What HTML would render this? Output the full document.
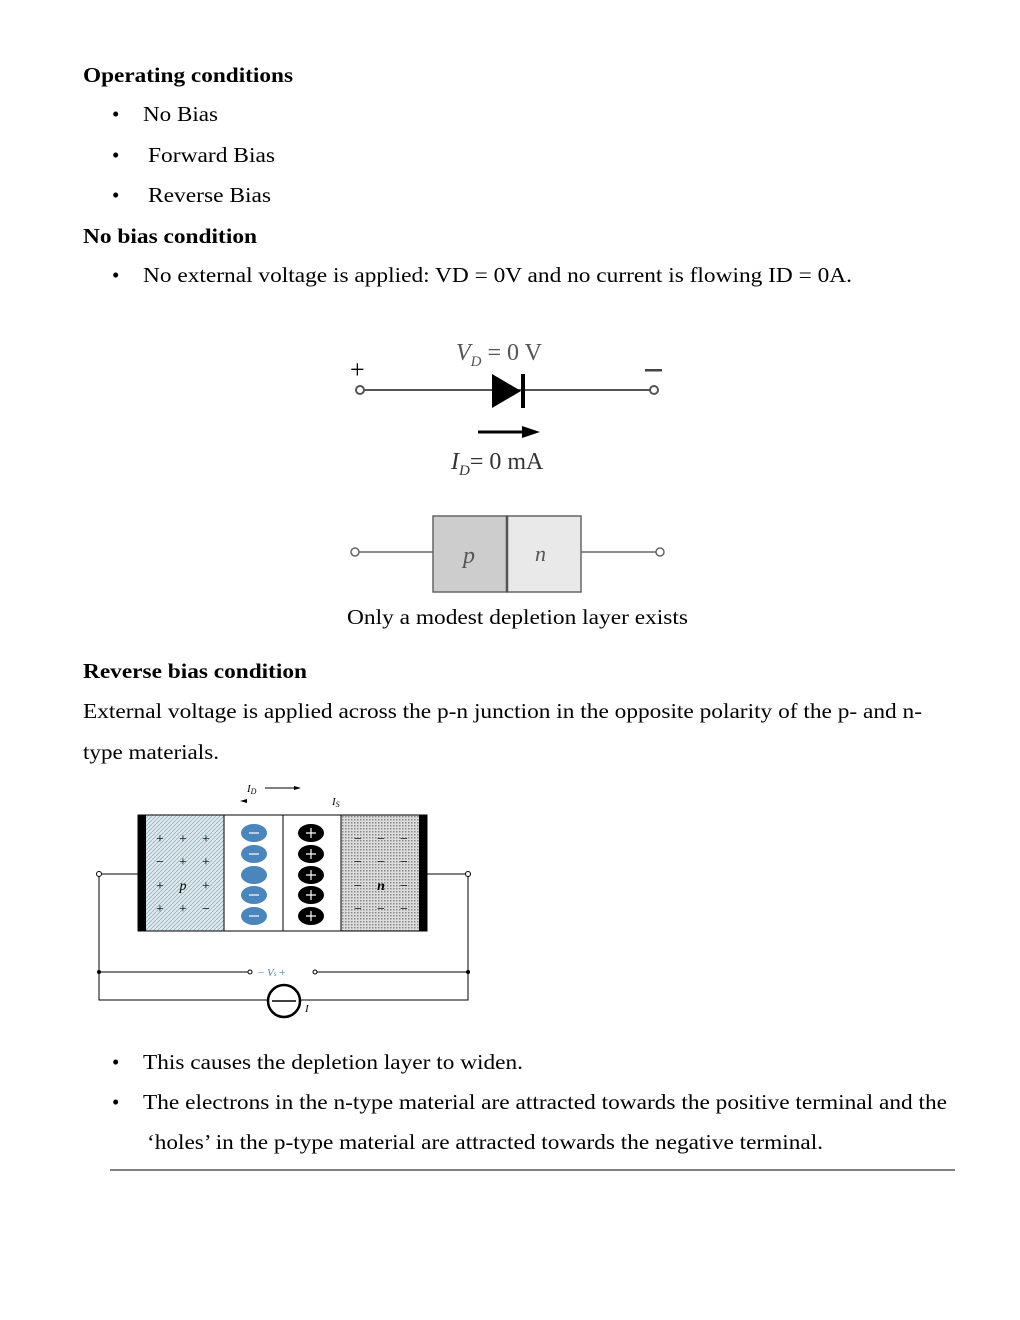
<!DOCTYPE html>
<html><head><meta charset="utf-8"><style>
html,body{margin:0;padding:0;background:#fff;}
svg{display:block;}
text{font-family:"Liberation Serif",serif;fill:#000;}
.t{font-size:21px;}
.b{font-size:21px;font-weight:bold;}
</style></head><body>
<svg width="1020" height="1320" viewBox="0 0 1020 1320" xmlns="http://www.w3.org/2000/svg">
<defs>
<pattern id="pp" width="4" height="4" patternUnits="userSpaceOnUse">
<rect width="4" height="4" fill="#dfe8f0"/><path d="M0 4L4 0" stroke="#8aa" stroke-width="0.7"/></pattern>
<pattern id="np" width="3" height="3" patternUnits="userSpaceOnUse">
<rect width="3" height="3" fill="#ddd"/><rect width="1.5" height="1.5" fill="#888"/></pattern>
</defs>
<text class="b" x="83" y="82" textLength="210" lengthAdjust="spacingAndGlyphs">Operating conditions</text>
<text class="t" x="112" y="121">•</text><text class="t" x="143" y="121" textLength="75" lengthAdjust="spacingAndGlyphs">No Bias</text>
<text class="t" x="112" y="162">•</text><text class="t" x="148" y="162" textLength="127" lengthAdjust="spacingAndGlyphs">Forward Bias</text>
<text class="t" x="112" y="202">•</text><text class="t" x="148" y="202" textLength="123" lengthAdjust="spacingAndGlyphs">Reverse Bias</text>
<text class="b" x="83" y="243" textLength="174" lengthAdjust="spacingAndGlyphs">No bias condition</text>
<text class="t" x="112" y="282">•</text><text class="t" x="143" y="282" textLength="709" lengthAdjust="spacingAndGlyphs">No external voltage is applied: VD = 0V and no current is flowing ID = 0A.</text>

<!-- diagram 1 -->
<g stroke="#555" stroke-width="2" fill="none">
<line x1="364" y1="390" x2="650" y2="390"/>
<circle cx="360" cy="390" r="4" fill="#fff"/><circle cx="654" cy="390" r="4" fill="#fff"/>
</g>
<polygon points="492,374 492,408 521,391" fill="#000"/>
<rect x="521" y="374" width="4" height="34" fill="#000"/>
<text x="350" y="378" font-size="26">+</text>
<rect x="645" y="369" width="17" height="2.5" fill="#444"/>
<text x="456" y="360" font-size="24" fill="#555" style="fill:#555"><tspan font-style="italic">V</tspan><tspan font-size="15" dy="6" font-style="italic">D</tspan><tspan dy="-6"> = 0 V</tspan></text>
<line x1="478" y1="432" x2="525" y2="432" stroke="#000" stroke-width="3"/>
<polygon points="522,426 540,432 522,438" fill="#000"/>
<text x="451" y="469" font-size="24" style="fill:#333"><tspan font-style="italic">I</tspan><tspan font-size="15" dy="6" font-style="italic">D</tspan><tspan dy="-6">= 0 mA</tspan></text>
<g stroke="#666" stroke-width="1.5">
<line x1="359" y1="552" x2="433" y2="552"/><line x1="581" y1="552" x2="656" y2="552"/>
<circle cx="355" cy="552" r="4" fill="#fff"/><circle cx="660" cy="552" r="4" fill="#fff"/>
<rect x="433" y="516" width="74" height="76" fill="#cdcdcd"/>
<rect x="507" y="516" width="74" height="76" fill="#e9e9e9"/>
</g>
<line x1="507" y1="516" x2="507" y2="592" stroke="#555" stroke-width="2.5"/>
<text x="463" y="563" font-size="24" font-style="italic" style="fill:#555">p</text>
<text x="535" y="561" font-size="22" font-style="italic" style="fill:#555">n</text>
<text class="t" x="347" y="624" textLength="341" lengthAdjust="spacingAndGlyphs">Only a modest depletion layer exists</text>

<text class="b" x="83" y="678" textLength="224" lengthAdjust="spacingAndGlyphs">Reverse bias condition</text>
<text class="t" x="83" y="718" textLength="839" lengthAdjust="spacingAndGlyphs">External voltage is applied across the p-n junction in the opposite polarity of the p- and n-</text>
<text class="t" x="83" y="759" textLength="136" lengthAdjust="spacingAndGlyphs">type materials.</text>

<!-- diagram 2 -->
<text x="247" y="792" font-size="11" font-style="italic">I<tspan font-size="8" dy="2">D</tspan></text>
<line x1="265" y1="788" x2="295" y2="788" stroke="#000" stroke-width="1"/>
<polygon points="294,786 301,788 294,790" fill="#000"/>
<polygon points="240,801 247,799 247,803" fill="#000"/>
<text x="332" y="805" font-size="11" font-style="italic">I<tspan font-size="8" dy="2">S</tspan></text>
<rect x="145" y="815" width="79" height="116" fill="url(#pp)"/>
<rect x="341" y="815" width="79" height="116" fill="url(#np)"/>
<rect x="138" y="815" width="289" height="116" fill="none" stroke="#000" stroke-width="1"/>
<rect x="138" y="815" width="8" height="116" fill="#000"/>
<rect x="419" y="815" width="8" height="116" fill="#000"/>
<line x1="224" y1="815" x2="224" y2="931" stroke="#000"/>
<line x1="283" y1="815" x2="283" y2="931" stroke="#000"/>
<line x1="341" y1="815" x2="341" y2="931" stroke="#000"/>
<g font-size="14" text-anchor="middle">
<text x="160" y="843">+</text><text x="183" y="843">+</text><text x="206" y="843">+</text>
<text x="160" y="866">−</text><text x="183" y="866">+</text><text x="206" y="866">+</text>
<text x="160" y="890">+</text><text x="183" y="890" font-style="italic">p</text><text x="206" y="890">+</text>
<text x="160" y="913">+</text><text x="183" y="913">+</text><text x="206" y="913">−</text>
<text x="358" y="843">−</text><text x="381" y="843">−</text><text x="404" y="843">−</text>
<text x="358" y="866">−</text><text x="381" y="866">−</text><text x="404" y="866">−</text>
<text x="358" y="890">−</text><text x="381" y="890" font-style="italic" font-weight="bold">n</text><text x="404" y="890">−</text>
<text x="358" y="913">−</text><text x="381" y="913">−</text><text x="404" y="913">−</text>
</g>
<g fill="#4a86bb">
<ellipse cx="254" cy="833" rx="13" ry="9"/><ellipse cx="254" cy="854" rx="13" ry="9"/><ellipse cx="254" cy="875" rx="13" ry="9"/><ellipse cx="254" cy="895" rx="13" ry="9"/><ellipse cx="254" cy="916" rx="13" ry="9"/>
</g>
<g stroke="#fff" stroke-width="1.2">
<line x1="249" y1="833" x2="259" y2="833"/><line x1="249" y1="854" x2="259" y2="854"/><line x1="249" y1="895" x2="259" y2="895"/><line x1="249" y1="916" x2="259" y2="916"/>
</g>
<g fill="#000">
<ellipse cx="311" cy="833" rx="13" ry="9"/><ellipse cx="311" cy="854" rx="13" ry="9"/><ellipse cx="311" cy="875" rx="13" ry="9"/><ellipse cx="311" cy="895" rx="13" ry="9"/><ellipse cx="311" cy="916" rx="13" ry="9"/>
</g>
<g stroke="#fff" stroke-width="1.2">
<path d="M306 833h10M311 828v10M306 854h10M311 849v10M306 875h10M311 870v10M306 895h10M311 890v10M306 916h10M311 911v10"/>
</g>
<g stroke="#000" stroke-width="1" fill="none">
<path d="M138 874H101M99 876V1000H268M300 1000H468V876M427 874H466"/>
<path d="M99 972H248M317 972H468"/>
<circle cx="99" cy="874" r="2.5" fill="#fff"/><circle cx="468" cy="874" r="2.5" fill="#fff"/>
<circle cx="250" cy="972" r="2" fill="#fff"/><circle cx="315" cy="972" r="2" fill="#fff"/>
<circle cx="284" cy="1001" r="16" stroke-width="2.5"/>
<line x1="272" y1="1001" x2="296" y2="1001" stroke-width="1.5"/>
</g>
<circle cx="99" cy="972" r="2" fill="#000"/><circle cx="468" cy="972" r="2" fill="#000"/>
<text x="258" y="976" font-size="11" style="fill:#4a86bb">− <tspan font-style="italic">V</tspan><tspan font-size="7">s</tspan> +</text>
<text x="305" y="1012" font-size="11" font-style="italic">I</text>

<text class="t" x="112" y="1069">•</text><text class="t" x="143" y="1069" textLength="380" lengthAdjust="spacingAndGlyphs">This causes the depletion layer to widen.</text>
<text class="t" x="112" y="1109">•</text><text class="t" x="143" y="1109" textLength="804" lengthAdjust="spacingAndGlyphs">The electrons in the n-type material are attracted towards the positive terminal and the</text>
<text class="t" x="147" y="1149" textLength="676" lengthAdjust="spacingAndGlyphs">‘holes’ in the p-type material are attracted towards the negative terminal.</text>
<line x1="110" y1="1170" x2="955" y2="1170" stroke="#000" stroke-width="1"/>
</svg>
</body></html>
